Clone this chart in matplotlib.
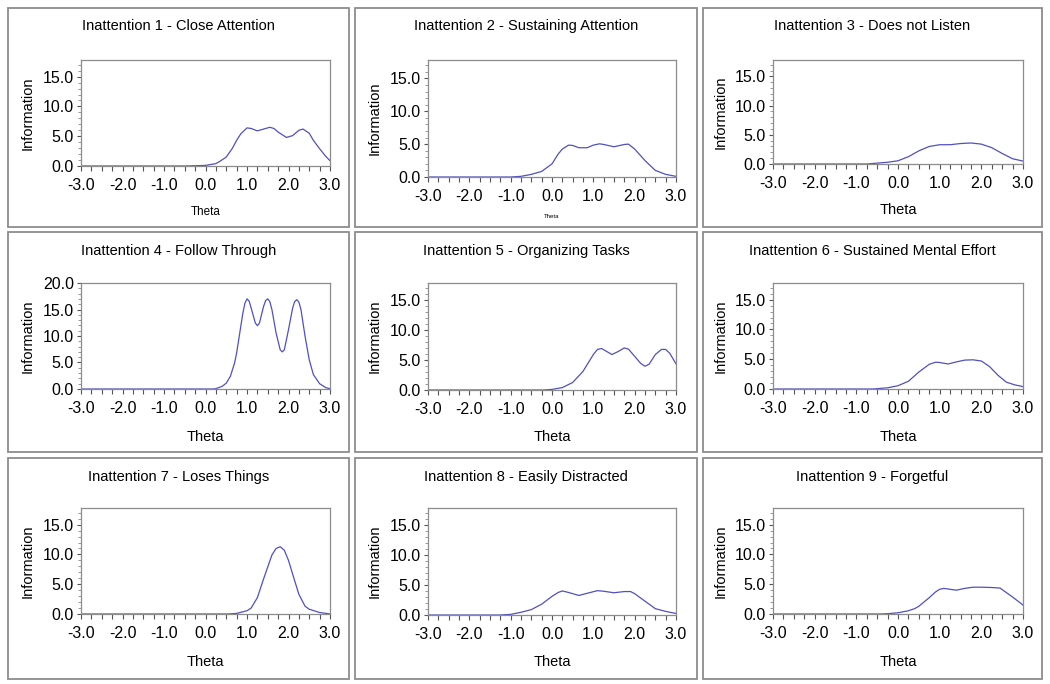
import numpy as np
import matplotlib
matplotlib.use("Agg")
import matplotlib.pyplot as plt
from matplotlib.patches import Rectangle
from matplotlib.ticker import MultipleLocator, FormatStrFormatter

plt.rcParams['font.family'] = ['Liberation Sans', 'DejaVu Sans']

# ── item information curves ───────────────────────────────────────────
titles = [
    "Inattention 1 - Close Attention",
    "Inattention 2 - Sustaining Attention",
    "Inattention 3 - Does not Listen",
    "Inattention 4 - Follow Through",
    "Inattention 5 - Organizing Tasks",
    "Inattention 6 - Sustained Mental Effort",
    "Inattention 7 - Loses Things",
    "Inattention 8 - Easily Distracted",
    "Inattention 9 - Forgetful",
]

theta_1 = [-3.0, -0.45, 0.0, 0.25, 0.35, 0.5, 0.65, 0.75, 0.85, 1.0, 1.1, 1.25,
           1.4, 1.55, 1.65, 1.75, 1.95, 2.1, 2.25, 2.35, 2.5, 2.6, 2.75, 2.9, 3.0]
info_1 = [0.0, 0.0, 0.1, 0.4, 0.8, 1.5, 3.0, 4.3, 5.4, 6.4, 6.3, 5.9,
          6.2, 6.5, 6.3, 5.7, 4.8, 5.1, 6.0, 6.2, 5.5, 4.3, 2.9, 1.6, 0.9]

theta_2 = [-3.0, -1.0, -0.75, -0.5, -0.25, 0.0, 0.15, 0.25, 0.4, 0.5, 0.65, 0.85,
           1.0, 1.15, 1.25, 1.5, 1.75, 1.85, 2.0, 2.25, 2.5, 2.75, 3.0]
info_2 = [0.0, 0.0, 0.1, 0.4, 0.85, 2.0, 3.5, 4.25, 4.85, 4.8, 4.45, 4.45,
          4.85, 5.05, 4.95, 4.6, 4.95, 5.0, 4.25, 2.5, 1.0, 0.4, 0.1]

theta_3 = [-3.0, -0.75, -0.5, -0.25, 0.0, 0.25, 0.5, 0.75, 1.0, 1.25, 1.5, 1.75,
           2.0, 2.25, 2.5, 2.75, 3.0]
info_3 = [0.0, 0.0, 0.15, 0.3, 0.55, 1.25, 2.25, 3.0, 3.3, 3.3, 3.5, 3.6,
          3.4, 2.8, 1.8, 0.9, 0.5]

theta_4 = [-3.0, 0.2, 0.25, 0.4, 0.5, 0.6, 0.7, 0.75, 0.85, 0.9, 0.95, 1.0, 1.05,
           1.1, 1.2, 1.25, 1.3, 1.4, 1.45, 1.5, 1.55, 1.6, 1.7, 1.8, 1.85, 1.9,
           2.0, 2.1, 2.15, 2.2, 2.25, 2.3, 2.4, 2.5, 2.6, 2.75, 2.9, 3.0]
info_4 = [0.0, 0.0, 0.06, 0.5, 1.1, 2.4, 4.9, 6.8, 11.8, 14.3, 16.2, 17.0, 16.6,
          15.3, 12.45, 11.95, 12.45, 15.6, 16.7, 17.0, 16.5, 15.0, 10.6, 7.4, 7.0, 7.4,
          11.2, 15.3, 16.5, 16.85, 16.4, 15.0, 9.9, 5.5, 2.7, 1.0, 0.25, 0.05]

theta_5 = [-3.0, -0.2, 0.0, 0.25, 0.5, 0.75, 1.0, 1.1, 1.2, 1.3, 1.45, 1.6,
           1.75, 1.85, 2.0, 2.15, 2.25, 2.35, 2.5, 2.65, 2.75, 2.85, 3.0]
info_5 = [0.0, 0.0, 0.1, 0.4, 1.25, 3.1, 5.9, 6.75, 6.9, 6.5, 5.9, 6.4,
          7.0, 6.8, 5.6, 4.4, 3.95, 4.3, 5.9, 6.75, 6.75, 6.1, 4.35]

theta_6 = [-3.0, -0.6, -0.5, -0.25, 0.0, 0.25, 0.5, 0.75, 0.9, 1.0, 1.2, 1.4,
           1.6, 1.8, 2.0, 2.2, 2.4, 2.6, 2.8, 3.0]
info_6 = [0.0, 0.0, 0.06, 0.2, 0.55, 1.3, 2.85, 4.15, 4.5, 4.45, 4.2, 4.55,
          4.85, 4.9, 4.7, 3.75, 2.3, 1.15, 0.7, 0.4]

theta_7 = [-3.0, 0.55, 0.75, 1.0, 1.1, 1.25, 1.4, 1.5, 1.6, 1.7, 1.8, 1.9,
           2.0, 2.1, 2.25, 2.4, 2.5, 2.75, 3.0]
info_7 = [0.0, 0.0, 0.1, 0.55, 1.0, 2.75, 5.9, 7.9, 9.9, 11.0, 11.3, 10.7,
          9.0, 6.7, 3.3, 1.3, 0.8, 0.25, 0.02]

theta_8 = [-3.0, -1.25, -1.0, -0.75, -0.5, -0.25, 0.0, 0.15, 0.25, 0.4, 0.65, 0.9,
           1.1, 1.25, 1.5, 1.75, 1.9, 2.0, 2.25, 2.5, 2.75, 3.0]
info_8 = [0.0, 0.0, 0.1, 0.45, 0.9, 1.8, 3.1, 3.75, 4.0, 3.75, 3.25, 3.7,
          4.05, 3.95, 3.7, 3.9, 3.9, 3.55, 2.3, 1.05, 0.6, 0.25]

theta_9 = [-3.0, -0.4, -0.25, 0.0, 0.25, 0.4, 0.5, 0.75, 0.9, 1.0, 1.1, 1.25,
           1.4, 1.6, 1.8, 2.0, 2.25, 2.45, 2.6, 2.75, 2.9, 3.0]
info_9 = [0.0, 0.0, 0.05, 0.2, 0.55, 0.9, 1.3, 2.75, 3.7, 4.15, 4.3, 4.15,
          4.0, 4.3, 4.5, 4.5, 4.45, 4.35, 3.6, 2.85, 2.05, 1.5]

thetas = [theta_1, theta_2, theta_3, theta_4, theta_5, theta_6, theta_7, theta_8, theta_9]
infos = [info_1, info_2, info_3, info_4, info_5, info_6, info_7, info_8, info_9]
y_tops = [17.8, 17.8, 17.8, 20.0, 17.8, 17.8, 17.8, 17.8, 17.8]
x_ticks = [-3.0, -2.0, -1.0, 0.0, 1.0, 2.0, 3.0]

# ── layout in pixels (figure is 1050 x 684) ───────────────────────────
W, H = 1050, 684
box_cols = [(8, 349), (355, 697), (703, 1042)]
box_rows = [(8, 227), (232, 452), (458, 679)]
axes_cols = [(81, 330), (428, 676), (773, 1023)]
axes_rows = [(60, 166), (283, 389), (508, 614)]
title_y = [26, 251, 477]
ylab_x = [28, 375, 721]
# panel 2 has a taller axes box and tiny "Theta", panel 1 a small one
theta_size = [8.4, 4.3, 10.5, 10.5, 10.5, 10.5, 10.5, 10.5, 10.5]
theta_y = [212, 216, 210, 437, 437, 437, 662, 662, 662]
axes_bottom_fix = {1: 177, 2: 164, 4: 390, 7: 615}

LINE = '#5050c0'
GREY = '#8c8c8c'

fig = plt.figure(figsize=(W / 100, H / 100), dpi=100)
fig.patch.set_facecolor('white')


def fx(px):
    return px / W


def fy(py):
    return 1 - py / H


for i in range(9):
    r, c = divmod(i, 3)
    bx0, bx1 = box_cols[c]
    by0, by1 = box_rows[r]
    fig.add_artist(Rectangle((fx(bx0), fy(by1)), fx(bx1 - bx0), (by1 - by0) / H,
                             transform=fig.transFigure, fill=False,
                             edgecolor=GREY, lw=1.3))

    ax0, ax1 = axes_cols[c]
    top, bot = axes_rows[r]
    bot = axes_bottom_fix.get(i, bot)
    ax = fig.add_axes([fx(ax0), fy(bot), fx(ax1 - ax0), (bot - top) / H])

    ax.plot(thetas[i], infos[i], color=LINE, lw=0.9)
    ax.set_xlim(-3, 3)
    ax.set_ylim(0, y_tops[i])

    ax.set_xticks(x_ticks)
    ax.xaxis.set_minor_locator(MultipleLocator(0.25))
    ax.yaxis.set_major_locator(MultipleLocator(5))
    ax.yaxis.set_minor_locator(MultipleLocator(1))
    ax.xaxis.set_major_formatter(FormatStrFormatter('%.1f'))
    ax.yaxis.set_major_formatter(FormatStrFormatter('%.1f'))
    ax.tick_params(axis='x', which='both', length=3.5, width=0.8, color='#555555',
                   labelsize=11.5, pad=5)
    ax.tick_params(axis='y', which='major', length=3, width=0.8, color='#555555',
                   labelsize=11.5, pad=2)
    ax.tick_params(axis='y', which='minor', length=2, width=0.6, color='#888888')
    for sp in ax.spines.values():
        sp.set_edgecolor(GREY)
        sp.set_linewidth(0.9)

    fig.text(fx((bx0 + bx1) / 2), fy(title_y[r]), titles[i],
             ha='center', va='center', fontsize=10.5)
    fig.text(fx(ylab_x[c]), fy((top + bot) / 2), 'Information', rotation=90,
             ha='center', va='center', fontsize=10.5)
    fig.text(fx((ax0 + ax1) / 2), fy(theta_y[i]), 'Theta',
             ha='center', va='center', fontsize=theta_size[i])

plt.savefig('out.png', dpi=100, facecolor=fig.get_facecolor())
plt.close()
